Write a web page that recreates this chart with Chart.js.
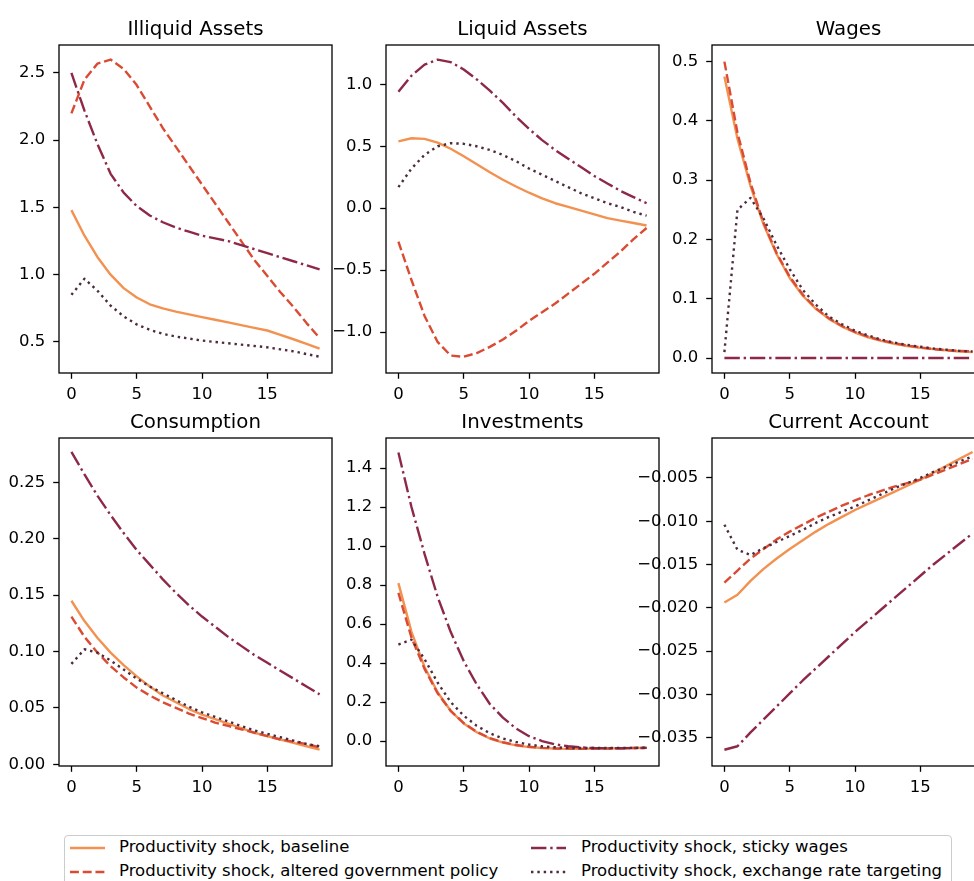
<!DOCTYPE html>
<html>
<head>
<meta charset="utf-8">
<title>Productivity shock responses</title>
<script src="https://cdn.jsdelivr.net/npm/chart.js@4.4.1/dist/chart.umd.min.js"></script>
<style>
  html, body { margin: 0; padding: 0; background: #fff; overflow: hidden; width: 974px; height: 881px; }
  canvas { position: absolute; }
  #legend { position: absolute; left: 64px; top: 835px; width: 886px; height: 64px;
            border: 1px solid #cccccc; border-radius: 4px;
            font-family: 'DejaVu Sans'; font-size: 16.5px; color: #000; }
  #legend svg, #legend span { position: absolute; }
  #legend span { line-height: 16px; white-space: nowrap; }
</style>
</head>
<body>
<div id="legend"></div>
<script>
// horizon (quarters after the shock)
const horizon = [0, 1, 2, 3, 4, 5, 6, 7, 8, 9, 10, 11, 12, 13, 14, 15, 16, 17, 18, 19];
const xTicks = [0, 5, 10, 15];

const seriesNames = [
  'Productivity shock, baseline',
  'Productivity shock, altered government policy',
  'Productivity shock, sticky wages',
  'Productivity shock, exchange rate targeting'
];
const panelTitles = ['Illiquid Assets', 'Liquid Assets', 'Wages', 'Consumption', 'Investments', 'Current Account'];

// Illiquid assets
const illiquidBaseline = [1.48, 1.29, 1.13, 1.00, 0.90, 0.83, 0.78, 0.75, 0.725, 0.705, 0.685, 0.665, 0.645, 0.625, 0.605, 0.585, 0.553, 0.52, 0.485, 0.45];
const illiquidAltered  = [2.20, 2.45, 2.57, 2.60, 2.53, 2.41, 2.25, 2.09, 1.95, 1.81, 1.67, 1.53, 1.39, 1.25, 1.11, 0.99, 0.87, 0.76, 0.64, 0.53];
const illiquidSticky   = [2.50, 2.22, 1.97, 1.75, 1.61, 1.51, 1.44, 1.39, 1.35, 1.32, 1.29, 1.27, 1.25, 1.22, 1.19, 1.16, 1.13, 1.10, 1.07, 1.04];
const illiquidPeg      = [0.85, 0.97, 0.88, 0.77, 0.69, 0.63, 0.59, 0.56, 0.54, 0.525, 0.51, 0.50, 0.49, 0.48, 0.47, 0.46, 0.445, 0.43, 0.41, 0.39];
const illiquidTicks = [0.5, 1.0, 1.5, 2.0, 2.5];
const illiquidRange = [0.269, 2.708];

// Liquid assets
const liquidBaseline = [0.54, 0.565, 0.56, 0.53, 0.48, 0.42, 0.355, 0.29, 0.23, 0.175, 0.125, 0.08, 0.04, 0.01, -0.02, -0.05, -0.08, -0.10, -0.12, -0.14];
const liquidAltered  = [-0.27, -0.58, -0.87, -1.08, -1.19, -1.20, -1.17, -1.12, -1.06, -0.99, -0.91, -0.84, -0.77, -0.69, -0.61, -0.53, -0.44, -0.35, -0.25, -0.16];
const liquidSticky   = [0.94, 1.07, 1.16, 1.20, 1.18, 1.12, 1.04, 0.95, 0.85, 0.74, 0.64, 0.55, 0.47, 0.40, 0.33, 0.26, 0.20, 0.14, 0.09, 0.04];
const liquidPeg      = [0.17, 0.32, 0.43, 0.50, 0.525, 0.52, 0.50, 0.47, 0.43, 0.38, 0.32, 0.27, 0.22, 0.17, 0.12, 0.08, 0.04, 0.01, -0.03, -0.06];
const liquidTicks = [-1.0, -0.5, 0.0, 0.5, 1.0];
const liquidRange = [-1.331, 1.318];

// Wages
const wagesBaseline = [0.475, 0.37, 0.29, 0.225, 0.175, 0.135, 0.105, 0.083, 0.066, 0.053, 0.043, 0.035, 0.029, 0.024, 0.020, 0.017, 0.015, 0.013, 0.011, 0.010];
const wagesAltered  = [0.50, 0.38, 0.295, 0.228, 0.177, 0.137, 0.107, 0.084, 0.067, 0.054, 0.044, 0.036, 0.030, 0.025, 0.021, 0.018, 0.015, 0.013, 0.012, 0.011];
const wagesSticky   = [0, 0, 0, 0, 0, 0, 0, 0, 0, 0, 0, 0, 0, 0, 0, 0, 0, 0, 0, 0];
const wagesPeg      = [0.01, 0.25, 0.27, 0.235, 0.19, 0.15, 0.115, 0.09, 0.07, 0.057, 0.046, 0.038, 0.031, 0.026, 0.022, 0.019, 0.016, 0.014, 0.012, 0.011];
const wagesTicks = [0.0, 0.1, 0.2, 0.3, 0.4, 0.5];
const wagesRange = [-0.0253, 0.528];

// Consumption
const consBaseline = [0.145, 0.127, 0.112, 0.099, 0.088, 0.078, 0.069, 0.061, 0.055, 0.049, 0.044, 0.040, 0.036, 0.032, 0.028, 0.025, 0.022, 0.019, 0.016, 0.013];
const consAltered  = [0.131, 0.113, 0.099, 0.087, 0.077, 0.068, 0.061, 0.055, 0.050, 0.045, 0.041, 0.037, 0.034, 0.031, 0.028, 0.025, 0.022, 0.020, 0.018, 0.015];
const consSticky   = [0.277, 0.257, 0.238, 0.221, 0.205, 0.190, 0.177, 0.164, 0.152, 0.141, 0.131, 0.122, 0.113, 0.105, 0.097, 0.090, 0.083, 0.076, 0.069, 0.062];
const consPeg      = [0.089, 0.102, 0.099, 0.092, 0.084, 0.076, 0.069, 0.063, 0.057, 0.051, 0.046, 0.042, 0.038, 0.034, 0.030, 0.027, 0.024, 0.021, 0.018, 0.016];
const consTicks = [0.00, 0.05, 0.10, 0.15, 0.20, 0.25];
const consRange = [-0.0015, 0.2893];

// Investments
const invBaseline = [0.81, 0.56, 0.38, 0.25, 0.155, 0.09, 0.045, 0.013, -0.008, -0.022, -0.031, -0.036, -0.039, -0.040, -0.040, -0.039, -0.038, -0.037, -0.036, -0.035];
const invAltered  = [0.76, 0.53, 0.37, 0.245, 0.155, 0.092, 0.047, 0.015, -0.006, -0.020, -0.029, -0.035, -0.038, -0.039, -0.040, -0.039, -0.038, -0.037, -0.036, -0.035];
const invSticky   = [1.48, 1.20, 0.96, 0.74, 0.56, 0.41, 0.29, 0.19, 0.12, 0.065, 0.025, 0.0, -0.017, -0.027, -0.033, -0.036, -0.037, -0.037, -0.036, -0.035];
const invPeg      = [0.495, 0.52, 0.42, 0.30, 0.20, 0.13, 0.078, 0.04, 0.013, -0.005, -0.018, -0.027, -0.032, -0.035, -0.036, -0.036, -0.036, -0.035, -0.035, -0.034];
const invTicks = [0.0, 0.2, 0.4, 0.6, 0.8, 1.0, 1.2, 1.4];
const invRange = [-0.128, 1.554];

// Current account
const caBaseline = [-0.0194, -0.0185, -0.0169, -0.0155, -0.0143, -0.0132, -0.0122, -0.0112, -0.0103, -0.0095, -0.0087, -0.0080, -0.0073, -0.0066, -0.0059, -0.0052, -0.0044, -0.0036, -0.0028, -0.0020];
const caAltered  = [-0.0171, -0.0157, -0.0143, -0.0132, -0.0121, -0.0112, -0.0104, -0.0096, -0.0089, -0.0082, -0.0076, -0.0070, -0.0065, -0.0060, -0.0056, -0.0052, -0.0046, -0.0040, -0.0034, -0.0028];
const caSticky   = [-0.0364, -0.0360, -0.0344, -0.0329, -0.0314, -0.0299, -0.0284, -0.0270, -0.0256, -0.0242, -0.0228, -0.0215, -0.0202, -0.0189, -0.0176, -0.0163, -0.0150, -0.0138, -0.0126, -0.0114];
const caPeg      = [-0.0104, -0.0133, -0.0139, -0.0131, -0.0124, -0.0117, -0.0110, -0.0102, -0.0095, -0.0089, -0.0083, -0.0076, -0.0069, -0.0062, -0.0056, -0.0050, -0.0043, -0.0037, -0.0031, -0.0025];
const caTicks = [-0.035, -0.030, -0.025, -0.020, -0.015, -0.010, -0.005];
const caRange = [-0.03828, -0.000385];

// line styles, one per scenario
const lineColors = ['#f39150', '#da4b33', '#8d2946', '#4d2a3e'];
const lineDashes = [[], [8.9, 3.84], [15.4, 3.84, 2.4, 3.84], [2.4, 3.96]];
const LINE_W = 2.4;

// grid of axes
const colLeft = [59, 386, 712];
const rowTop = [45, 438];
const PLOT_W = 273, PLOT_H = 328;
const PAD_L = 95, PAD_T = 45, PAD_R = 12, PAD_B = 40;
const FONT = 'DejaVu Sans';
const TICK_SIZE = 16.5, TITLE_SIZE = 19.8;

const fmt = (v, d) => v.toFixed(d).replace('-', '\u2212');

// frame around the axes and the title above it
const panelFrame = {
  id: 'panelFrame',
  afterDraw(chart, args, opts) {
    const { ctx, chartArea: a } = chart;
    ctx.save();
    ctx.strokeStyle = '#000';
    ctx.lineWidth = 1.3;
    ctx.strokeRect(a.left, a.top, a.right - a.left, a.bottom - a.top);
    ctx.fillStyle = '#000';
    ctx.font = TITLE_SIZE + 'px "' + FONT + '"';
    ctx.textAlign = 'center';
    ctx.textBaseline = 'alphabetic';
    ctx.fillText(opts.title, (a.left + a.right) / 2, a.top - 9.6);
    ctx.restore();
  }
};

function axisStyle() {
  return {
    grid: { display: true, drawOnChartArea: false, drawTicks: true, tickLength: 5.8, tickWidth: 1.3, tickColor: '#000' },
    border: { display: false }
  };
}

function makePanel(i, series, ticks, range, decimals) {
  const col = i % 3, row = Math.floor(i / 3);
  const canvas = document.createElement('canvas');
  canvas.width = PAD_L + PLOT_W + PAD_R;
  canvas.height = PAD_T + PLOT_H + PAD_B;
  canvas.style.left = (colLeft[col] - PAD_L) + 'px';
  canvas.style.top = (rowTop[row] - PAD_T) + 'px';
  document.body.appendChild(canvas);

  new Chart(canvas, {
    type: 'line',
    data: {
      datasets: series.map((ys, k) => ({
        label: seriesNames[k],
        data: horizon.map((x, j) => ({ x: x, y: ys[j] })),
        borderColor: lineColors[k],
        borderDash: lineDashes[k],
        borderWidth: LINE_W,
        borderCapStyle: 'butt',
        borderJoinStyle: 'round',
        pointRadius: 0,
        tension: 0,
        fill: false,
        order: series.length - k
      }))
    },
    options: {
      responsive: false,
      animation: false,
      events: [],
      layout: { padding: { left: 0, top: PAD_T, right: PAD_R, bottom: 0 } },
      plugins: {
        legend: { display: false },
        tooltip: { enabled: false },
        panelFrame: { title: panelTitles[i] }
      },
      scales: {
        x: {
          type: 'linear',
          min: -0.95,
          max: 19.95,
          ...axisStyle(),
          afterBuildTicks: s => { s.ticks = xTicks.map(v => ({ value: v })); },
          afterFit: s => { s.height = PAD_B; },
          ticks: { font: { family: FONT, size: TICK_SIZE }, color: '#000', padding: 6, autoSkip: false, maxRotation: 0,
                   callback: v => fmt(v, 0) }
        },
        y: {
          type: 'linear',
          min: range[0],
          max: range[1],
          ...axisStyle(),
          afterBuildTicks: s => { s.ticks = ticks.map(v => ({ value: v })); },
          afterFit: s => { s.width = PAD_L; },
          ticks: { font: { family: FONT, size: TICK_SIZE }, color: '#000', padding: 8, autoSkip: false,
                   callback: v => fmt(v, decimals) }
        }
      }
    },
    plugins: [panelFrame]
  });
}

makePanel(0, [illiquidBaseline, illiquidAltered, illiquidSticky, illiquidPeg], illiquidTicks, illiquidRange, 1);
makePanel(1, [liquidBaseline, liquidAltered, liquidSticky, liquidPeg], liquidTicks, liquidRange, 1);
makePanel(2, [wagesBaseline, wagesAltered, wagesSticky, wagesPeg], wagesTicks, wagesRange, 1);
makePanel(3, [consBaseline, consAltered, consSticky, consPeg], consTicks, consRange, 2);
makePanel(4, [invBaseline, invAltered, invSticky, invPeg], invTicks, invRange, 1);
makePanel(5, [caBaseline, caAltered, caSticky, caPeg], caTicks, caRange, 3);

// shared legend below the panels, two columns
const legend = document.getElementById('legend');
const itemX = [[5, 54], [466, 516]];
const itemY = [[12, 3], [36, 27]];
seriesNames.forEach((name, k) => {
  const col = Math.floor(k / 2), row = k % 2;
  const svgNS = 'http://www.w3.org/2000/svg';
  const svg = document.createElementNS(svgNS, 'svg');
  svg.setAttribute('width', 36);
  svg.setAttribute('height', 8);
  svg.style.left = itemX[col][0] + 'px';
  svg.style.top = (itemY[row][0] - 4) + 'px';
  const line = document.createElementNS(svgNS, 'line');
  line.setAttribute('x1', 0); line.setAttribute('x2', 35);
  line.setAttribute('y1', 4); line.setAttribute('y2', 4);
  line.setAttribute('stroke', lineColors[k]);
  line.setAttribute('stroke-width', LINE_W);
  if (lineDashes[k].length) line.setAttribute('stroke-dasharray', lineDashes[k].join(' '));
  svg.appendChild(line);
  legend.appendChild(svg);
  const span = document.createElement('span');
  span.textContent = name;
  span.style.left = itemX[col][1] + 'px';
  span.style.top = itemY[row][1] + 'px';
  legend.appendChild(span);
});
</script>
</body>
</html>
